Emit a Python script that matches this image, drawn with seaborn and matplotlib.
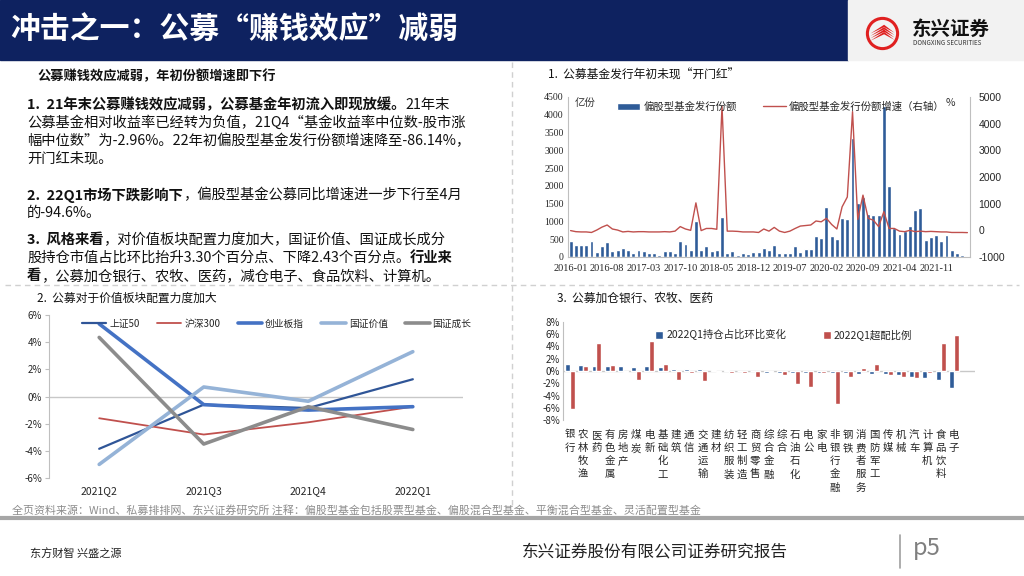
import numpy as np
import pandas as pd
import matplotlib
matplotlib.use("Agg")
import matplotlib.pyplot as plt
import seaborn as sns
from matplotlib.lines import Line2D
from matplotlib.patches import Rectangle, Circle, Polygon

# ---------------- data ----------------
months = pd.date_range("2016-01", periods=77, freq="MS").strftime("%Y-%m").tolist()
issue = [450, 330, 345, 345, 460, 150, 300, 420, 180, 200,
         260, 210, 100, 190, 170, 100, 120, 60, 170, 170,
         100, 440, 370, 200, 1000, 200, 300, 170, 190, 1130,
         100, 170, 70, 100, 80, 150, 150, 260, 210, 350,
         120, 100, 100, 300, 150, 230, 230, 590, 540, 1400,
         590, 500, 1100, 1060, 3350, 1530, 1690, 1200, 1190, 1190,
         4250, 2000, 810, 640, 730, 860, 1310, 1370, 480, 550,
         610, 440, 610, 190, 115, 60, 30]
growth = [-10, -50, -60, -60, -80, 10, 120, 200, 50, 10,
          -60, -40, -60, -50, -50, -60, -60, -60, -50, -60,
          -30, 140, 50, 0, 1030, -10, 70, 70, 40, 4650,
          -30, -30, -40, -60, -60, -60, -80, 50, -30, 110,
          -30, -80, -30, 70, 160, 180, 200, 350, 320, 450,
          220, 50, 880, 1250, 4450, 410, 1320, 450, 380, 140,
          700, 70, 70, -30, -50, 0, -50, -30, -50, -40,
          -50, -60, -60, -80, -80, -80, -86]

quarters = ["2021Q2", "2021Q3", "2021Q4", "2022Q1"]
sz50 = [-3.85, -0.6, -0.85, 1.27]
hs300 = [-1.6, -2.8, -1.9, -0.75]
cyb = [5.35, -0.6, -1.0, -0.75]
gz_value = [-5.0, 0.7, -0.35, 3.3]
gz_growth = [4.35, -3.5, -0.75, -2.43]

industries = ["银行", "农林牧渔", "医药", "有色金属", "房地产", "煤炭", "电新", "基础化工",
              "建筑", "通信", "交通运输", "建材", "纺织服装", "轻工制造", "商贸零售", "综合金融",
              "综合", "石油石化", "电公", "家电", "非银行金融", "钢铁", "消费者服务", "国防军工",
              "传媒", "机械", "汽车", "计算机", "食品饮料", "电子"]
pos_change = [1.1, 0.9, 0.85, 0.85, 0.75, 0.7, 0.75, 0.65, 0.3, 0.25,
              0.25, 0.1, 0.1, 0.05, 0.05, -0.3, -0.3, -0.3, -0.3, -0.3,
              -0.3, -0.4, -0.5, -0.5, -0.5, -0.7, -0.9, -1.2, -1.5, -2.8]
overweight = [-6.2, 0.75, 4.5, 1.0, -0.15, -1.4, 4.85, 1.2, -1.5, -0.3,
              -1.7, -0.2, -0.3, -0.3, -1.0, -0.2, -0.6, -2.2, -2.6, -0.4,
              -5.4, -0.9, 0.5, 1.2, -0.6, -0.9, -1.1, -0.3, 4.5, 5.8]

# ---------------- style ----------------
sns.set_style("white")
plt.rcParams["font.family"] = ["Noto Sans CJK SC", "DejaVu Sans"]
plt.rcParams["axes.unicode_minus"] = False

W, H = 1024, 576
BLUE = "#2F5C98"
RED = "#C0504D"
NAVY = "#0E2260"
GRID = "#BFBFBF"

fig = plt.figure(figsize=(W / 100, H / 100), dpi=100)
fig.patch.set_facecolor("white")


def px(x0, y0, x1, y1):
    return [x0 / W, 1 - y1 / H, (x1 - x0) / W, (y1 - y0) / H]


def ftext(x, y, s, **kw):
    kw.setdefault("va", "center")
    return fig.text(x / W, 1 - y / H, s, **kw)


def fline(xs, ys, **kw):
    fig.add_artist(Line2D([x / W for x in xs], [1 - y / H for y in ys],
                          transform=fig.transFigure, **kw))


renderer = fig.canvas.get_renderer()


def rich(x, y, segs, size=10.3):
    for s, b in segs:
        t = ftext(x, y, s, fontsize=size, fontweight="bold" if b else "normal",
                  ha="left", color="#111111")
        x = t.get_window_extent(renderer=renderer).x1


# ---------------- header ----------------
fig.add_artist(Rectangle((0, 1 - 60 / H), 848 / W, 60 / H, transform=fig.transFigure,
                         color=NAVY, zorder=0))
fig.add_artist(Rectangle((848 / W, 1 - 60 / H), 176 / W, 60 / H, transform=fig.transFigure,
                         color="#F2F2F2", zorder=0))
ftext(10, 30, "冲击之一：公募“赚钱效应”减弱", fontsize=21.5, fontweight="bold", color="white")

ax_logo = fig.add_axes(px(865, 16, 900, 51))
ax_logo.set_xlim(-1.1, 1.1)
ax_logo.set_ylim(-1.1, 1.1)
ax_logo.set_aspect("equal")
ax_logo.axis("off")
ax_logo.add_patch(Circle((0, 0), 0.95, fill=False, ec="#E02020", lw=2.2))
for k in range(4):
    off = -0.35 + k * 0.15
    ax_logo.add_patch(Polygon([[-0.75, off - 0.1], [0.1, off + 0.45], [0.75, off - 0.05],
                               [0.1, off + 0.3]], closed=True, fc="#E02020", ec="none"))
ftext(912, 29, "东兴证券", fontsize=14, fontweight="bold", color="#111111")
ftext(913, 43, "DONGXING SECURITIES", fontsize=4.5, color="#333333")

# ---------------- separators ----------------
fline([512, 512], [62, 505], color="#D0D0D0", lw=1, ls=(0, (4, 3)))
fline([5, 1019], [285, 285], color="#D0D0D0", lw=1, ls=(0, (4, 3)))
fline([0, 1024], [518, 518], color="#A6A6A6", lw=3)

# ---------------- text block ----------------
ftext(37, 76, "公募赚钱效应减弱，年初份额增速即下行", fontsize=9.5, fontweight="bold",
      color="#111111")
rich(27, 105, [("1.  21年末公募赚钱效应减弱，公募基金年初流入即现放缓。", True), ("21年末", False)])
rich(27, 123, [("公募基金相对收益率已经转为负值，21Q4“基金收益率中位数-股市涨", False)])
rich(27, 141, [("幅中位数”为-2.96%。22年初偏股型基金发行份额增速降至-86.14%，", False)])
rich(27, 159, [("开门红未现。", False)])
rich(27, 195, [("2.  22Q1市场下跌影响下", True), ("，偏股型基金公募同比增速进一步下行至4月", False)])
rich(27, 213, [("的-94.6%。", False)])
rich(27, 240, [("3.  风格来看", True), ("，对价值板块配置力度加大，国证价值、国证成长成分", False)])
rich(27, 258, [("股持仓市值占比环比抬升3.30个百分点、下降2.43个百分点。", False), ("行业来", True)])
rich(27, 276, [("看", True), ("，公募加仓银行、农牧、医药，减仓电子、食品饮料、计算机。", False)])

# ---------------- chart 1 ----------------
ftext(548, 75, "1.  公募基金发行年初未现“开门红”", fontsize=8.5, color="#111111")
df1 = pd.DataFrame({"month": months, "issue": issue, "growth": growth})
ax1 = fig.add_axes(px(568, 97, 970, 257))
sns.barplot(data=df1, x="month", y="issue", color=BLUE, saturation=1, width=0.75, ax=ax1,
            label="偏股型基金发行份额")
ax1.set_ylim(0, 4500)
ax1.set_xlim(-0.5, len(months) - 0.5)
ax1.set_yticks(range(0, 4501, 500))
ax1.set_yticklabels([str(v) for v in range(0, 4501, 500)], fontsize=7,
                    family="Liberation Serif")
ax1.set_xticks(range(0, len(months), 7))
ax1.set_xticklabels(months[::7], fontsize=7.5, family="Liberation Serif")
ax1.set_xlabel("")
ax1.set_ylabel("")
ax1.tick_params(axis="y", length=0, pad=3)
ax1.tick_params(axis="x", length=0, pad=5)
ax2 = ax1.twinx()
sns.lineplot(x=np.arange(len(months)), y=df1["growth"], color=RED, lw=1, ax=ax2,
             label="偏股型基金发行份额增速（右轴）")
ax2.set_ylim(-1000, 5000)
ax2.set_yticks(range(-1000, 5001, 1000))
ax2.set_yticklabels([str(v) for v in range(-1000, 5001, 1000)], fontsize=7.5,
                    family="Liberation Sans")
ax2.set_ylabel("")
ax2.tick_params(axis="y", length=0, pad=6)
for a in (ax1, ax2):
    for s in a.spines.values():
        s.set_visible(False)
ax1.spines["left"].set_visible(True)
ax1.spines["left"].set_color(GRID)
ax1.spines["bottom"].set_visible(True)
ax1.spines["bottom"].set_color(GRID)
ax2.spines["right"].set_visible(True)
ax2.spines["right"].set_color(GRID)
h1, l1 = ax1.get_legend_handles_labels()
h2, l2 = ax2.get_legend_handles_labels()
ax2.legend(h1 + h2, l1 + l2, ncol=2, loc="upper center", bbox_to_anchor=(0.53, 1.03),
           frameon=False, fontsize=7.5, handlelength=2.2, columnspacing=2.5,
           handletextpad=0.3)
if ax1.get_legend():
    ax1.get_legend().remove()
ftext(575, 103, "亿份", fontsize=7.5, color="#333333")
ftext(946, 103, "%", fontsize=7.5, color="#333333")

# ---------------- chart 2 ----------------
ftext(37, 298, "2.  公募对于价值板块配置力度加大", fontsize=8.5, color="#111111")
ax3 = fig.add_axes(px(49, 315, 463, 478))
series2 = [("上证50", sz50, "#2F5597", 1.6),
           ("沪深300", hs300, RED, 1.3),
           ("创业板指", cyb, "#4472C4", 2.6),
           ("国证价值", gz_value, "#95B3D7", 2.6),
           ("国证成长", gz_growth, "#8C8C8C", 2.6)]
for name, vals, col, lw in series2:
    sns.lineplot(x=quarters, y=vals, sort=False, color=col, lw=lw, ax=ax3, label=name)
ax3.set_ylim(-6, 6)
ax3.set_xlim(-0.48, 3.48)
ax3.set_yticks(range(-6, 7, 2))
ax3.set_yticklabels([f"{v}%" for v in range(-6, 7, 2)], fontsize=7)
ax3.axhline(0, color="#C8C8C8", lw=1, zorder=0)
for s in ax3.spines.values():
    s.set_visible(False)
ax3.spines["left"].set_visible(True)
ax3.spines["left"].set_color(GRID)
ax3.tick_params(axis="y", length=3, color=GRID, pad=2, direction="out", left=True)
ax3.tick_params(axis="x", length=0, pad=6, labelsize=7.5)
ax3.set_xlabel("")
ax3.set_ylabel("")
ax3.legend(ncol=5, loc="upper center", bbox_to_anchor=(0.55, 1.03), frameon=False,
           fontsize=7, handlelength=2.5, columnspacing=1.8, handletextpad=0.3)

# ---------------- chart 3 ----------------
ftext(557, 298, "3.  公募加仓银行、农牧、医药", fontsize=8.5, color="#111111")
s_a = "2022Q1持仓占比环比变化"
s_b = "2022Q1超配比例"
df3 = pd.DataFrame({
    "industry": industries * 2,
    "series": [s_a] * len(industries) + [s_b] * len(industries),
    "value": pos_change + overweight,
})
ax4 = fig.add_axes(px(563, 322, 975, 420))
sns.barplot(data=df3, x="industry", y="value", hue="series", palette=[BLUE, RED],
            saturation=1, width=0.75, ax=ax4)
ax4.set_ylim(-8, 8)
ax4.set_xlim(-0.53, 30.6)
ax4.set_yticks(range(-8, 9, 2))
ax4.set_yticklabels([f"{v}%" for v in range(-8, 9, 2)], fontsize=7)
ax4.axhline(0, color="#C8C8C8", lw=1, zorder=0)
ax4.set_xticks(range(len(industries)))
ax4.set_xticklabels(["\n".join(s) for s in industries], fontsize=7.5, linespacing=1.4,
                    va="top")
for s in ax4.spines.values():
    s.set_visible(False)
ax4.spines["left"].set_visible(True)
ax4.spines["left"].set_color(GRID)
ax4.tick_params(axis="y", length=0, pad=2)
ax4.tick_params(axis="x", length=0, pad=7)
ax4.set_xlabel("")
ax4.set_ylabel("")
ax4.legend(ncol=2, loc="upper left", bbox_to_anchor=(0.2, 1.02), frameon=False,
           fontsize=7.5, handlelength=0.8, handleheight=0.8, columnspacing=3.5,
           handletextpad=0.3)

# ---------------- footer ----------------
ftext(12, 510, "全页资料来源：Wind、私募排排网、东兴证券研究所 注释：偏股型基金包括股票型基金、"
      "偏股混合型基金、平衡混合型基金、灵活配置型基金", fontsize=7.9, color="#8C8C8C")
ftext(30, 553, "东方财智 兴盛之源", fontsize=8, color="#222222")
ftext(522, 552, "东兴证券股份有限公司证券研究报告", fontsize=12, color="#222222")
fline([900, 900], [535, 568], color="#A0A0A0", lw=1.2)
ftext(913, 548, "p5", fontsize=17, color="#7F7F7F")

fig.savefig("out.png", dpi=100)
